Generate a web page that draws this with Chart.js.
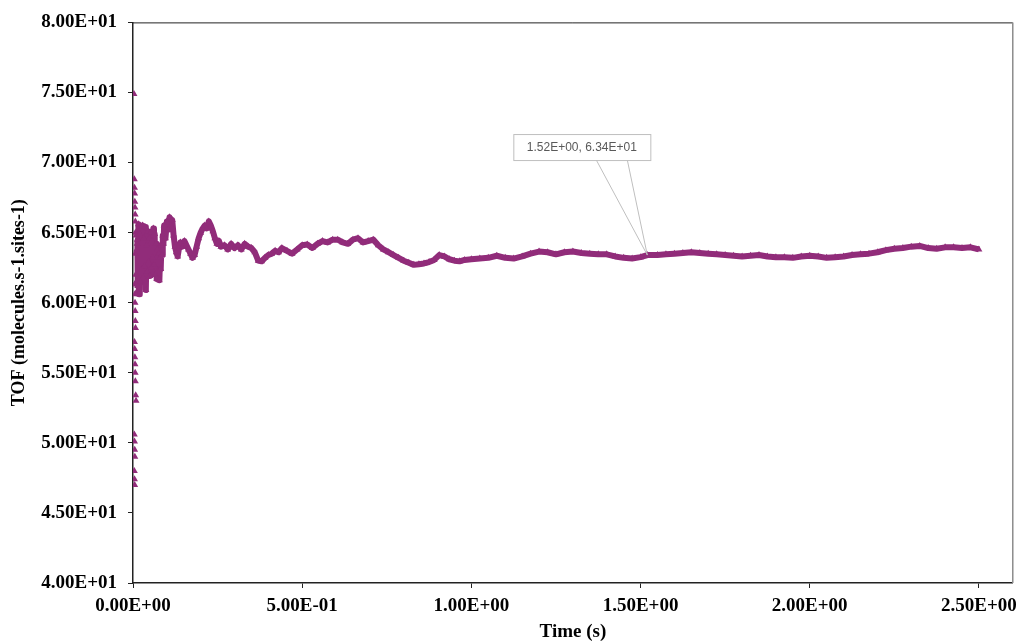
<!DOCTYPE html>
<html><head><meta charset="utf-8">
<script src="https://cdn.jsdelivr.net/npm/chart.js@4/dist/chart.umd.min.js"></script>
<style>html,body{margin:0;padding:0;background:#fff}#wrap{width:1024px;height:644px;position:relative}</style>
</head><body><div id="wrap"><canvas id="c" width="1024" height="644"></canvas></div>
<script>
const xTickValues = [0, 0.5, 1.0, 1.5, 2.0, 2.5];
const yTickValues = [40, 45, 50, 55, 60, 65, 70, 75, 80];
const xTitle = 'Time (s)';
const yTitle = 'TOF (molecules.s-1.sites-1)';
const calloutPoint = [1.52, 63.4];
const calloutText = '1.52E+00, 6.34E+01';

// early scattered points (t < 0.0125 s), markers only
const earlyTime = [0.0030,0.0040,0.0045,0.0050,0.0055,0.0060,0.0065,0.0070,0.0050,0.0055,0.0060,0.0065,0.0070,0.0075,0.0045,0.0050,0.0055,0.0060,0.0065,0.0070,0.0080,0.0090,0.0040,0.0045,0.0050,0.0055,0.0040,0.0045,0.0050,0.0060,0.0070,0.0080,0.0090,0.0100,0.0110,0.0115,0.0120];
const earlyTof  = [74.9,68.8,68.2,67.8,67.2,66.8,66.3,65.8,61.3,60.6,60.0,59.4,58.7,58.2,57.2,56.7,56.1,55.6,55.0,54.4,53.4,53.0,50.6,50.1,49.5,49.0,48.0,47.4,47.0,63.5,65.0,62.0,64.8,61.5,63.8,60.8,64.2];

// main trace
const timeS = [0.013,0.014,0.016,0.018,0.020,0.022,0.024,0.026,0.028,0.030,0.032,0.034,0.036,0.038,0.040,0.042,0.044,0.046,0.048,0.050,0.052,0.054,0.056,0.058,0.060,0.062,0.064,0.066,0.068,0.070,0.072,0.074,0.076,0.078,0.080,0.082,0.084,0.086,0.088,0.090,0.092,0.096,0.100,0.104,0.108,0.112,0.116,0.120,0.124,0.128,0.132,0.136,0.140,0.146,0.152,0.158,0.164,0.170,0.176,0.182,0.188,0.194,0.200,0.206,0.212,0.218,0.224,0.230,0.236,0.242,0.248,0.254,0.260,0.270,0.280,0.290,0.300,0.310,0.320,0.330,0.340,0.350,0.360,0.370,0.380,0.390,0.400,0.410,0.420,0.430,0.440,0.455,0.470,0.485,0.500,0.515,0.530,0.545,0.560,0.575,0.590,0.605,0.620,0.635,0.650,0.665,0.680,0.695,0.710,0.725,0.740,0.755,0.770,0.785,0.800,0.815,0.830,0.845,0.860,0.875,0.890,0.905,0.920,0.935,0.950,0.965,0.980,1.000,1.025,1.050,1.075,1.100,1.125,1.150,1.175,1.200,1.225,1.250,1.275,1.300,1.325,1.350,1.375,1.400,1.425,1.450,1.475,1.500,1.520,1.550,1.575,1.600,1.625,1.650,1.675,1.700,1.725,1.750,1.775,1.800,1.825,1.850,1.875,1.900,1.925,1.950,1.975,2.000,2.025,2.050,2.075,2.100,2.125,2.150,2.175,2.200,2.225,2.250,2.275,2.300,2.325,2.350,2.375,2.400,2.425,2.450,2.475,2.500];
const tof   = [64.5,61.2,65.6,60.6,64.9,61.5,65.3,62.4,65.5,61.8,64.6,62.6,65.4,60.9,64.1,62.2,65.1,62.9,64.6,61.9,65.0,62.5,64.4,63.2,65.3,62.7,64.9,62.0,64.2,61.7,63.8,62.3,63.5,61.6,63.2,62.4,64.1,63.4,64.8,64.2,65.5,64.6,65.8,65.2,66.1,65.5,65.9,64.8,64.0,63.6,63.3,63.9,64.3,64.0,64.4,64.1,63.8,63.5,63.2,63.4,64.0,64.6,65.0,65.3,65.5,65.3,65.8,65.5,65.1,64.6,64.2,64.4,64.0,64.1,63.8,64.2,63.9,64.1,63.8,64.2,64.0,63.9,63.6,63.0,62.95,63.2,63.4,63.5,63.7,63.6,63.9,63.7,63.5,63.8,64.1,64.15,63.9,64.2,64.4,64.3,64.5,64.5,64.3,64.2,64.5,64.6,64.3,64.4,64.5,64.1,63.8,63.6,63.4,63.2,63.0,62.85,62.7,62.75,62.8,62.9,63.05,63.4,63.3,63.1,63.0,62.95,63.05,63.1,63.15,63.2,63.35,63.2,63.15,63.3,63.5,63.65,63.6,63.45,63.6,63.65,63.55,63.5,63.45,63.45,63.3,63.2,63.15,63.25,63.4,63.4,63.45,63.5,63.55,63.6,63.55,63.5,63.45,63.4,63.35,63.3,63.35,63.4,63.3,63.25,63.25,63.2,63.3,63.35,63.3,63.2,63.25,63.3,63.4,63.45,63.5,63.6,63.75,63.85,63.9,64.0,64.05,63.9,63.85,63.95,63.95,63.9,63.95,63.8];

const COLOR = '#912C7A';
const SERIF = "'Liberation Serif', 'Times New Roman', serif";

function fmtExp(v) {
  const s = Number(v).toExponential(2).toUpperCase();
  const m = s.match(/^(-?[\d.]+)E([+-])(\d+)$/);
  return m[1] + 'E' + m[2] + m[3].padStart(2, '0');
}

const points = [];
earlyTime.forEach((t, i) => points.push({x: t, y: earlyTof[i]}));
timeS.forEach((t, i) => points.push({x: t, y: tof[i]}));

const framePlugin = {
  id: 'frame',
  beforeDatasetsDraw(chart) {
    const {ctx, chartArea: a} = chart;
    ctx.save();
    ctx.strokeStyle = '#222';
    ctx.lineWidth = 1;
    ctx.beginPath(); ctx.moveTo(a.left, a.top + 0.5); ctx.lineTo(a.right, a.top + 0.5); ctx.stroke();
    ctx.strokeStyle = '#8c8c8c';
    ctx.lineWidth = 1.5;
    ctx.beginPath(); ctx.moveTo(a.right, a.top); ctx.lineTo(a.right, a.bottom); ctx.stroke();
    ctx.restore();
  }
};

const calloutPlugin = {
  id: 'callout',
  afterDatasetsDraw(chart) {
    const {ctx, scales: {x, y}} = chart;
    const px = x.getPixelForValue(calloutPoint[0]);
    const py = y.getPixelForValue(calloutPoint[1]);
    const bx = px - 134, by = py - 121, bw = 137, bh = 26;
    ctx.save();
    ctx.strokeStyle = '#bfbfbf';
    ctx.lineWidth = 1;
    ctx.beginPath();
    ctx.moveTo(bx + 83, by + bh); ctx.lineTo(px, py);
    ctx.moveTo(bx + 114, by + bh); ctx.lineTo(px, py);
    ctx.stroke();
    ctx.fillStyle = '#fff';
    ctx.fillRect(bx, by, bw, bh);
    ctx.strokeRect(bx + 0.5, by + 0.5, bw, bh);
    ctx.fillStyle = '#595959';
    ctx.font = "12px 'Liberation Sans', Arial, sans-serif";
    ctx.textAlign = 'center';
    ctx.textBaseline = 'middle';
    ctx.fillText(calloutText, bx + bw / 2, by + bh / 2 + 1);
    ctx.restore();
  }
};

new Chart(document.getElementById('c'), {
  type: 'scatter',
  data: {
    datasets: [{
      label: 'TOF',
      data: points,
      showLine: true,
      borderColor: COLOR,
      backgroundColor: COLOR,
      borderWidth: 6,
      borderJoinStyle: 'round',
      pointStyle: 'triangle',
      pointRadius: 4,
      pointBorderWidth: 0,
      pointBackgroundColor: COLOR,
      segment: {
        borderColor: c => (c.p0.parsed.x < 0.0125 ? 'rgba(0,0,0,0)' : COLOR)
      }
    }]
  },
  options: {
    responsive: false,
    animation: false,
    devicePixelRatio: 1,
    layout: {padding: {top: 20, right: 5, left: 0, bottom: 0}},
    plugins: {legend: {display: false}, tooltip: {enabled: false}},
    scales: {
      x: {
        type: 'linear', min: 0, max: 2.6,
        afterBuildTicks: s => { s.ticks = xTickValues.map(v => ({value: v})); },
        afterFit: s => { s.height = 61; },
        grid: {display: true, drawOnChartArea: false, drawTicks: true, tickLength: 5, color: '#222'},
        border: {display: true, color: '#222', width: 1.5},
        ticks: {
          color: '#000', padding: 7, maxRotation: 0, autoSkip: false,
          font: {family: SERIF, size: 19, weight: 'bold'},
          callback: v => fmtExp(v)
        },
        title: {display: true, text: xTitle, color: '#000', padding: {top: 0, bottom: 1},
          font: {family: SERIF, size: 19, weight: 'bold'}}
      },
      y: {
        type: 'linear', min: 40, max: 80,
        afterBuildTicks: s => { s.ticks = yTickValues.map(v => ({value: v})); },
        afterFit: s => { s.width = 133; },
        grid: {display: true, drawOnChartArea: false, drawTicks: true, tickLength: 5, color: '#222'},
        border: {display: true, color: '#222', width: 1.5},
        ticks: {
          color: '#000', padding: 11, autoSkip: false,
          font: {family: SERIF, size: 19, weight: 'bold'},
          callback: v => fmtExp(v)
        },
        title: {display: true, text: yTitle, color: '#000', padding: {top: 9, bottom: 0},
          font: {family: SERIF, size: 18, weight: 'bold'}}
      }
    }
  },
  plugins: [framePlugin, calloutPlugin]
});
</script>
</body></html>
